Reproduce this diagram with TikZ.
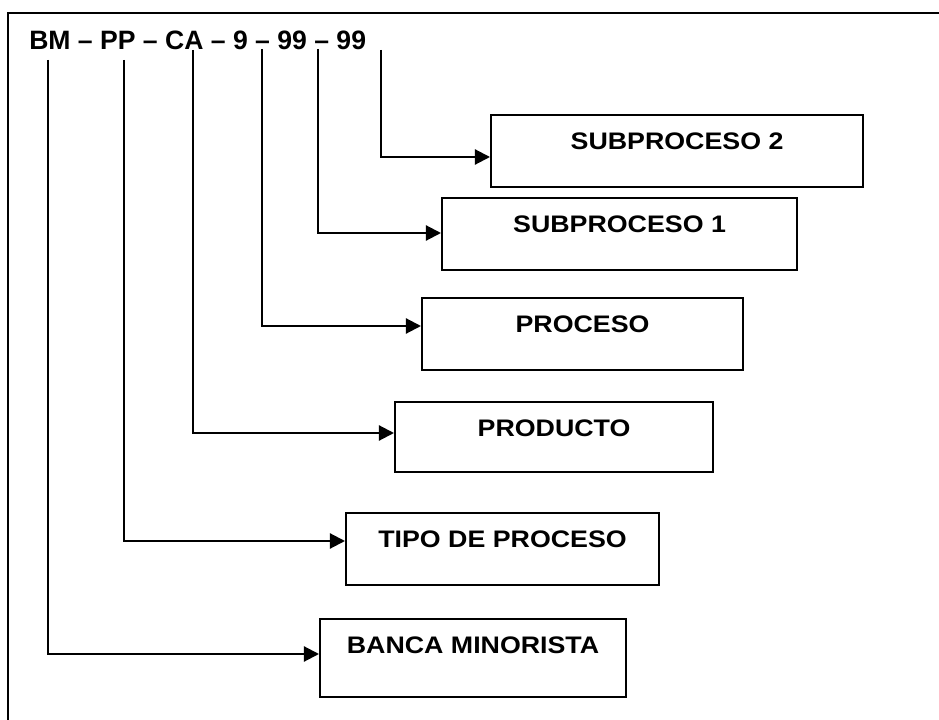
\documentclass[tikz,border=0pt]{standalone}
\usepackage{fontspec}
\setmainfont{Liberation Sans}
\newfontfamily\boxfont[FakeStretch=1.12]{Liberation Sans}
\usetikzlibrary{positioning,arrows.meta,calc}

\begin{document}
\begin{tikzpicture}[
    x=0.025cm, y=-0.025cm,
    codebox/.style={
        rectangle,
        draw,
        line width=1.5pt,
        anchor=north west,
        inner xsep=0pt,
        inner ysep=0pt,
        text height=0.86cm,
        text depth=0.94cm,
        font=\boxfont\fontsize{17}{20}\selectfont\bfseries
    },
    link/.style={line width=1.5pt, -{Triangle[length=0.38cm,width=0.38cm]}},
    >=Stealth
]
\useasboundingbox (0,0) rectangle (939,720);

% frame (only top and left edges show)
\draw[line width=1.5pt] (8,720) -- (8,13) -- (939,13);

% the code itself
\node[anchor=base west, inner sep=0pt, font=\fontsize{18.9}{22}\selectfont\bfseries]
    (code) at (29,50) {BM -- PP -- CA -- 9 -- 99 -- 99};

% where each part of the code starts
\coordinate (cBM)   at (48,60);
\coordinate (cPP)   at (124,60);
\coordinate (cCA)   at (193,50);
\coordinate (cPRO)  at (262,49);
\coordinate (cSUB1) at (318,49);
\coordinate (cSUB2) at (381,50);

% boxes
\node[codebox, minimum width=372*0.025cm] (sub2)  at (490,114) {SUBPROCESO 2};
\node[codebox, minimum width=355*0.025cm] (sub1)  at (441,197) {SUBPROCESO 1};
\node[codebox, minimum width=321*0.025cm] (proc)  at (421,297) {PROCESO};
\node[codebox, minimum width=318*0.025cm, text depth=0.89cm] (prod) at (394,401) {PRODUCTO};
\node[codebox, minimum width=313*0.025cm] (tipo)  at (345,512) {TIPO DE PROCESO};
\node[codebox, minimum width=306*0.025cm, text depth=1.09cm] (banca) at (319,618) {BANCA MINORISTA};

% connectors
\draw[link] (cSUB2) |- ($(sub2.north west)+(0,43)$);
\draw[link] (cSUB1) |- ($(sub1.north west)+(0,36)$);
\draw[link] (cPRO)  |- ($(proc.north west)+(0,29)$);
\draw[link] (cCA)   |- ($(prod.north west)+(0,32)$);
\draw[link] (cPP)   |- ($(tipo.north west)+(0,29)$);
\draw[link] (cBM)   |- ($(banca.north west)+(0,36)$);
\end{tikzpicture}
\end{document}
